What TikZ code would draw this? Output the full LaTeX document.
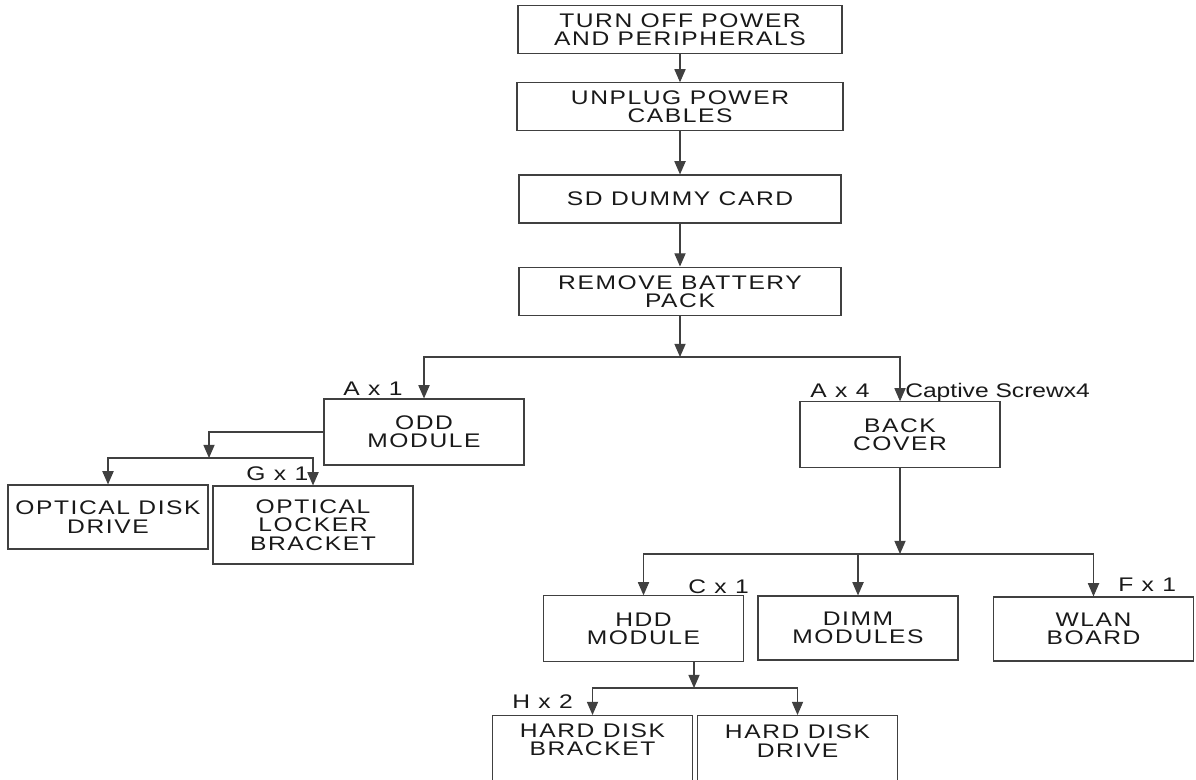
\documentclass[tikz,border=0pt]{standalone}
\usepackage{fontspec}
\setmainfont{Liberation Sans}[FakeStretch=1.25,LetterSpace=8]
\usetikzlibrary{arrows.meta}
\tikzset{
  stepbox/.style={draw=black!75,line width=0.8pt,align=center,inner sep=0pt,text=black!90,font=\fontsize{14}{13}\selectfont},
  steptext/.style={align=center,inner sep=0pt,text=black!90,font=\fontsize{14}{13}\selectfont},
  qty/.style={inner sep=0pt,anchor=base west,text=black!90,font=\fontsize{14}{13}\selectfont},
  arr/.style={draw=black!75,line width=0.8pt,-{Triangle[width=0.28cm,length=0.33cm]}}
}
\begin{document}
\begin{tikzpicture}[x=0.025cm,y=-0.025cm]
  \useasboundingbox (0,0) rectangle (1196,780);
  % main sequence
  \node[stepbox,minimum width=8.1cm,minimum height=1.22cm] (off) at (680,29.5) {TURN OFF POWER\\AND PERIPHERALS};
  \node[stepbox,minimum width=8.15cm,minimum height=1.18cm] (unplug) at (680,106.5) {UNPLUG POWER\\CABLES};
  \node[stepbox,minimum width=8.05cm,minimum height=1.2cm] (sd) at (680,199) {SD DUMMY CARD};
  \node[stepbox,minimum width=8.05cm,minimum height=1.22cm] (batt) at (680,291.5) {REMOVE BATTERY\\PACK};
  \draw[arr] (off.south) -- (unplug.north);
  \draw[arr] (unplug.south) -- (sd.north);
  \draw[arr] (sd.south) -- (batt.north);
  % first split
  \node[stepbox,minimum width=5cm,minimum height=1.65cm] (odd) at (424,432) {ODD\\MODULE};
  \node[stepbox,minimum width=5cm,minimum height=1.63cm] (back) at (900,434.5) {BACK\\COVER};
  \coordinate (j1) at (680,357);
  \draw[arr] (batt.south) -- (j1);
  \draw[arr] (j1) -| (odd.north);
  \draw[arr] (j1) -| (back.north);
  \node[qty] (ax1) at (343,395) {A x 1};
  \node[qty] (ax4) at (810,397) {A x 4};
  \node[qty] (cap) at (905,397) {\addfontfeature{LetterSpace=0}Captive Screwx4};
  % odd parts
  \node[stepbox,minimum width=5cm,minimum height=1.6cm] (odrive) at (108,517) {OPTICAL DISK\\DRIVE};
  \node[stepbox,minimum width=5cm,minimum height=1.95cm] (locker) at (313,525) {OPTICAL\\LOCKER\\BRACKET};
  \coordinate (j2) at (209,458);
  \draw[arr] (odd.west) -| (j2);
  \draw[arr] (j2) -| (odrive.north);
  \draw[arr] (j2) -| (locker.north);
  \node[qty] (gx1) at (246,480) {G x 1};
  % back cover parts
  \node[stepbox,minimum width=5cm,minimum height=1.63cm] (hdd) at (643.5,628.5) {HDD\\MODULE};
  \node[stepbox,minimum width=5cm,minimum height=1.6cm] (dimm) at (858,628) {DIMM\\MODULES};
  \node[stepbox,minimum width=5cm,minimum height=1.6cm] (wlan) at (1093.5,629) {WLAN\\BOARD};
  \coordinate (j3) at (900,554);
  \draw[arr] (back.south) -- (j3);
  \draw[arr] (j3) -| (hdd.north);
  \draw[arr] (j3) -| (dimm.north);
  \draw[arr] (j3) -| (wlan.north);
  \node[qty] (cx1) at (688,593) {C x 1};
  \node[qty] (fx1) at (1118,591) {F x 1};
  % hdd parts (cut off at the bottom)
  \node[stepbox,anchor=north,minimum width=5cm,minimum height=2.2cm] (hdbr) at (592.5,715) {};
  \node[stepbox,anchor=north,minimum width=5cm,minimum height=2.2cm] (hddr) at (797.5,715) {};
  \node[steptext] (hdbrt) at (592.5,740) {HARD DISK\\BRACKET};
  \node[steptext] (hddrt) at (797.5,741) {HARD DISK\\DRIVE};
  \coordinate (j4) at (694,688);
  \draw[arr] (hdd.south -| j4) -- (j4);
  \draw[arr] (j4) -| (hdbr.north);
  \draw[arr] (j4) -| (hddr.north);
  \node[qty] (hx2) at (512,708) {H x 2};
\end{tikzpicture}
\end{document}
